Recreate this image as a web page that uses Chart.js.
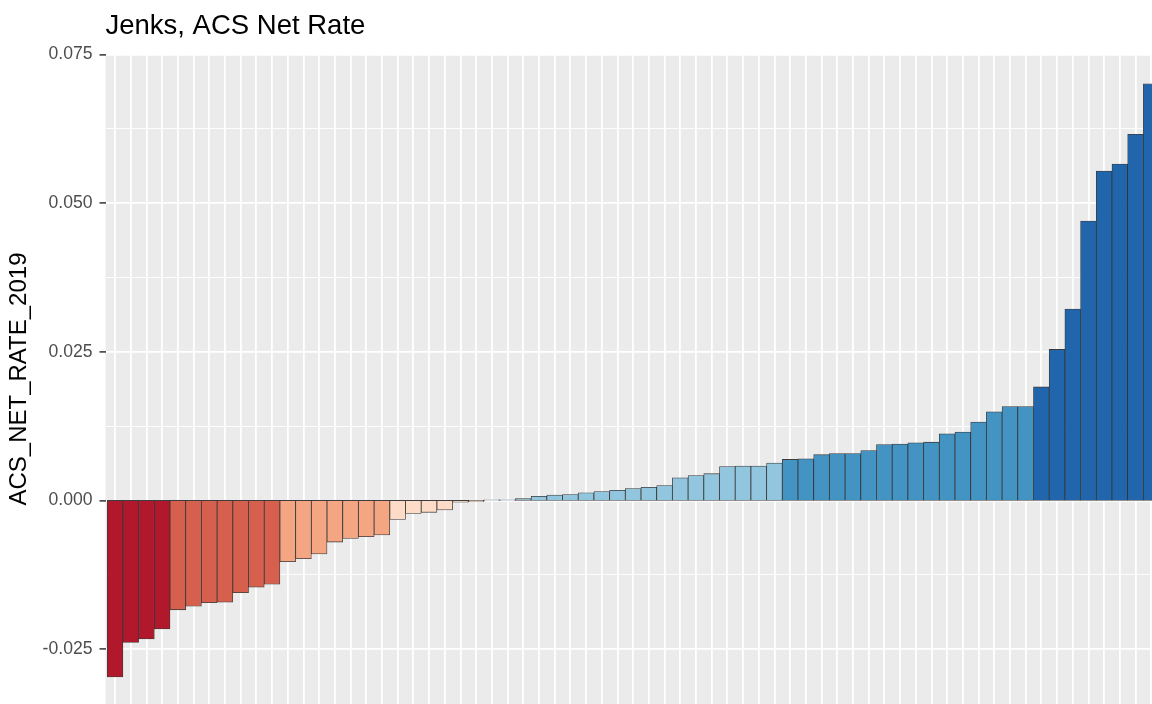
<!DOCTYPE html>
<html>
<head>
<meta charset="utf-8">
<script src="https://cdn.jsdelivr.net/npm/chart.js@4/dist/chart.umd.min.js"></script>
<style>
  html, body { margin: 0; padding: 0; background: #ffffff; overflow: hidden; }
  canvas { display: block; }
</style>
</head>
<body>
<canvas id="chart" width="1152" height="704"></canvas>
<script>
// ACS_NET_RATE_2019, sorted, one bar per area
const values = [
  -0.0297, -0.0239, -0.0233, -0.0216, -0.0184, -0.0178, -0.0172, -0.0171,
  -0.0155, -0.0146, -0.0141, -0.0103, -0.0098, -0.0090, -0.0070, -0.0064,
  -0.0061, -0.0058, -0.0032, -0.0022, -0.0020, -0.0016, -0.0003, -0.0002,
  0.0001, 0.0001, 0.0003, 0.0007, 0.0009, 0.0010, 0.0013, 0.0015,
  0.0017, 0.0020, 0.0022, 0.0025, 0.0038, 0.0042, 0.0045, 0.0057,
  0.0058, 0.0058, 0.0063, 0.0069, 0.0070, 0.0077, 0.0079, 0.0079,
  0.0084, 0.0094, 0.0095, 0.0097, 0.0098, 0.0112, 0.0115, 0.0132,
  0.0149, 0.0158, 0.0158, 0.0191, 0.0254, 0.0322, 0.0470, 0.0554,
  0.0566, 0.0616, 0.0701
];

// jenks class upper bounds and their RdBu colours
const classBreaks = [-0.020, -0.012, -0.005, 0.0, 0.0002, 0.0065, 0.017, 1];
const classColors = ['#B2182B', '#D6604D', '#F4A582', '#FDDBC7', '#D1E5F0', '#92C5DE', '#4393C3', '#2166AC'];

const yTicks = [-0.025, 0, 0.025, 0.05, 0.075];
const yMinorTicks = [-0.0375, -0.0125, 0.0125, 0.0375, 0.0625];

const colorFor = v => classColors[classBreaks.findIndex(b => v <= b)];

const panelBg = {
  id: 'panelBg',
  beforeDraw(chart) {
    const { ctx, chartArea: a } = chart;
    ctx.save();
    ctx.fillStyle = '#EBEBEB';
    ctx.fillRect(a.left, a.top, a.right - a.left, a.bottom - a.top);
    ctx.restore();
  }
};

const noPad = s => { s.paddingTop = 0; s.paddingBottom = 0; s.paddingLeft = 0; s.paddingRight = 0; };

new Chart(document.getElementById('chart'), {
  type: 'bar',
  data: {
    datasets: [{
      data: values.map((v, i) => ({ x: i, y: v })),
      backgroundColor: values.map(colorFor),
      borderColor: 'rgba(40,40,40,0.9)',
      borderWidth: 0.8,
      borderSkipped: false,
      barPercentage: 1,
      categoryPercentage: 1
    }]
  },
  options: {
    responsive: false,
    animation: false,
    devicePixelRatio: 1,
    layout: { padding: 0 },
    plugins: {
      legend: { display: false },
      tooltip: { enabled: false },
      title: {
        display: true,
        text: 'Jenks, ACS Net Rate',
        align: 'start',
        fullSize: false,
        color: '#000000',
        font: { family: 'Liberation Sans, Arial, sans-serif', size: 27.5, weight: 'normal' },
        padding: { top: 10, bottom: 11 }
      }
    },
    scales: {
      x: {
        type: 'linear',
        offset: false,
        min: -0.61,
        max: 66.05,
        afterBuildTicks: s => { s.ticks = values.map((v, i) => ({ value: i })); },
        afterFit: s => { s.height = 0; noPad(s); },
        ticks: { display: false },
        border: { display: false },
        grid: { offset: false, color: '#FFFFFF', lineWidth: 1.8, drawTicks: false }
      },
      yMinor: {
        type: 'linear',
        position: 'left',
        min: -0.03424,
        max: 0.0751,
        afterBuildTicks: s => { s.ticks = yMinorTicks.map(v => ({ value: v })); },
        afterFit: s => { s.width = 0; noPad(s); },
        ticks: { display: false },
        border: { display: false },
        grid: { color: '#FFFFFF', lineWidth: 0.9, drawTicks: false }
      },
      y: {
        type: 'linear',
        position: 'left',
        min: -0.03424,
        max: 0.0751,
        afterBuildTicks: s => { s.ticks = yTicks.map(v => ({ value: v })); },
        afterFit: s => { s.width = 105.5; noPad(s); },
        border: { display: false },
        grid: { color: '#FFFFFF', lineWidth: 1.8, tickColor: '#333333', tickWidth: 1.5, tickLength: 6 },
        ticks: {
          color: '#4D4D4D',
          padding: 7,
          font: { family: 'Liberation Sans, Arial, sans-serif', size: 17.6 },
          callback: v => v.toFixed(3)
        },
        title: {
          display: true,
          text: 'ACS_NET_RATE_2019',
          color: '#000000',
          padding: { top: 5, bottom: 0 },
          font: { family: 'Liberation Sans, Arial, sans-serif', size: 24 }
        }
      }
    }
  },
  plugins: [panelBg]
});
</script>
</body>
</html>
